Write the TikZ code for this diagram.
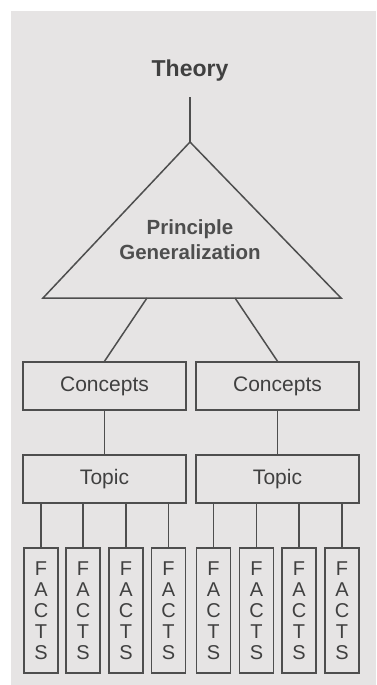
\documentclass[tikz,border=0pt]{standalone}
\usepackage{fontspec}
\setmainfont{Liberation Sans}
\definecolor{bg}{HTML}{E6E4E4}
\definecolor{ink}{HTML}{4E4E4E}
\definecolor{txt}{HTML}{404040}
\tikzset{
  conn/.style={draw=ink, line width=1.5pt},
  boxnode/.style={draw=ink, line width=1.5pt, minimum width=163pt, minimum height=48pt, inner sep=0pt,
    text=txt, font=\fontsize{21}{24}\selectfont},
  factbox/.style={draw=ink, line width=1.5pt, minimum width=34pt, minimum height=125pt, inner sep=0pt,
    text=txt, align=center, font=\fontsize{20}{21}\selectfont},
}
\begin{document}
\begin{tikzpicture}[x=1pt, y=-1pt]
\useasboundingbox (0,0) rectangle (376,685);
\fill[white] (0,0) rectangle (376,685);
\fill[bg] (11,11) rectangle (376,685);

% Theory
\node[text=txt, font=\bfseries\fontsize{23}{26}\selectfont] (theory) at (190,71) {Theory};
\coordinate (tbot) at (190,97);
\coordinate (apex) at (190,142);
\coordinate (bl) at (43,298);
\coordinate (br) at (341,298);
\draw[conn] (tbot) -- (apex);
\draw[conn, line join=miter] (apex) -- (bl) -- (br) -- cycle;
\node[text=ink, align=center, font=\bfseries\fontsize{20.5}{25}\selectfont] (pg) at (190,240) {Principle\\Generalization};

% Concepts
\node[boxnode] (c1) at (104.5,386) {Concepts};
\node[boxnode] (c2) at (277.5,386) {Concepts};
\coordinate (b1) at (147,298);
\coordinate (b2) at (235,298);
\draw[conn] (b1) -- (c1.north);
\draw[conn] (b2) -- (c2.north);

% Topics
\node[boxnode] (t1) at (104.5,479) {Topic};
\node[boxnode] (t2) at (277.5,479) {Topic};
\draw[conn] (c1.south) -- (t1.north);
\draw[conn] (c2.south) -- (t2.north);

% Facts
\foreach \i/\x/\t in {1/41/t1, 2/83/t1, 3/126/t1, 4/168.5/t1, 5/213.5/t2, 6/256.5/t2, 7/299/t2, 8/342/t2} {
  \node[factbox] (f\i) at (\x,610.5) {F\\A\\C\\T\\S};
  \draw[conn] (f\i.north) -- (f\i.north |- \t.south);
}
\end{tikzpicture}
\end{document}
